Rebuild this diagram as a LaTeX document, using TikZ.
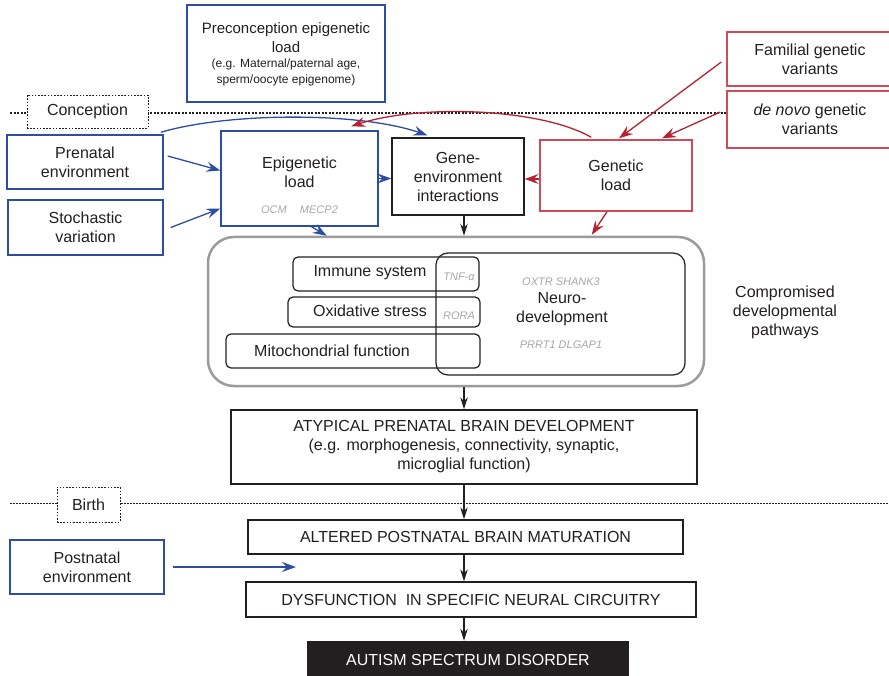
\documentclass[tikz,border=0pt]{standalone}
\usepackage{fontspec}
\setmainfont{Liberation Sans}
\usetikzlibrary{arrows.meta,calc}
\definecolor{myblue}{HTML}{2B4EA2}
\definecolor{myred}{HTML}{B52232}
\definecolor{redline}{HTML}{D24A57}
\definecolor{txt}{HTML}{231F20}
\definecolor{genegray}{HTML}{A6A6A6}
\definecolor{biggray}{HTML}{9B9B9B}
\begin{document}
\begin{tikzpicture}[x=1pt,y=-1pt,
  font=\fontsize{16}{19}\selectfont, text=txt,
  every node/.style={align=center, inner sep=0pt},
  box/.style={draw, line width=1.4pt},
  bluebox/.style={box, draw=myblue},
  redbox/.style={box, draw=redline},
  blackbox/.style={box, draw=txt},
  inbox/.style={draw=txt, line width=1.2pt},
  dotbox/.style={draw=txt, line width=0.9pt, dash pattern=on 1.6pt off 1.6pt, fill=white},
  gene/.style={text=genegray, font=\fontsize{11}{13}\selectfont\itshape},
  tipb/.style={-{Stealth[length=14pt,width=10pt,inset=5pt]}},
  barrow/.style={myblue, line width=1.3pt, tipb},
  rarrow/.style={myred, line width=1.3pt, tipb},
  karrow/.style={txt, line width=1.2pt, -{Stealth[length=12pt,width=7.5pt,inset=4pt]}},
  condot/.style={txt, line width=2.6pt, dash pattern=on 2pt off 1.5pt},
  birthdot/.style={txt, line width=0.9pt, dash pattern=on 1.5pt off 1.5pt}
]
\useasboundingbox (0,0) rectangle (889,676);

% time lines
\coordinate (cl) at (10,113);
\coordinate (cr) at (727,113);
\draw[condot] (cl) -- (cr);
\coordinate (bl) at (10,503);
\coordinate (br) at (889,503);
\draw[birthdot] (bl) -- (br);

% top boxes
\node[bluebox, minimum width=198pt, minimum height=97pt] (pre) at (286,53.5) {};
\node[font=\fontsize{15}{19}\selectfont] (pret) at (286,37.5) {Preconception epigenetic\\load};
\node[font=\fontsize{12}{16}\selectfont] (pres) at (286,72) {(e.g. Maternal/paternal age,\\sperm/oocyte epigenome)};

\node[dotbox, minimum width=121pt, minimum height=33pt] (conc) at (87.5,111.5) {Conception};

\node[bluebox, minimum width=156pt, minimum height=54pt] (prenat) at (85,162) {Prenatal\\environment};
\node[bluebox, minimum width=155pt, minimum height=55pt] (stoch) at (85.5,227.5) {Stochastic\\variation};

\node[bluebox, minimum width=157pt, minimum height=95pt] (epi) at (299.5,178.5) {};
\node (epit) at (299.5,172) {Epigenetic\\load};
\node[gene] (epig) at (299.5,210) {OCM\hspace{1.2em}MECP2};

\node[blackbox, minimum width=132pt, minimum height=77pt] (gxe) at (458,176.5) {Gene-\\environment\\interactions};
\node[redbox, minimum width=152pt, minimum height=71pt] (gen) at (616,175.5) {Genetic\\load};

\node[redbox, minimum width=166pt, minimum height=54pt] (fam) at (810,59) {Familial genetic\\variants};
\node[redbox, minimum width=166pt, minimum height=57pt] (denovo) at (810,119.5) {\textit{de novo} genetic\\variants};

% pathways
\node[draw=biggray, line width=2.5pt, rounded corners=26pt, minimum width=496pt, minimum height=149pt] (big) at (456,311.5) {};
\node[inbox, rounded corners=12pt, minimum width=249pt, minimum height=122pt] (neuro) at (560.5,314) {};
\node[inbox, rounded corners=5pt, minimum width=186pt, minimum height=34pt] (imm) at (386,274) {};
\node[inbox, rounded corners=5pt, minimum width=192pt, minimum height=30pt] (ox) at (384,312) {};
\node[inbox, rounded corners=5pt, minimum width=254pt, minimum height=34pt] (mito) at (353,351) {};
\node (immt) at (370,273) {Immune system};
\node (oxt) at (370,311) {Oxidative stress};
\node (mitot) at (332,351) {Mitochondrial function};
\node (neurot) at (562,309) {Neuro-\\development};
\node[gene] (tnf) at (459,277) {TNF-α};
\node[gene] (rora) at (459,316) {RORA};
\node[gene] (oxtr) at (561,282) {OXTR SHANK3};
\node[gene] (prrt) at (561,345) {PRRT1 DLGAP1};
\node (comp) at (785,312) {Compromised\\developmental\\pathways};

% lower chain
\node[blackbox, minimum width=466pt, minimum height=74pt] (atyp) at (464,447) {ATYPICAL PRENATAL BRAIN DEVELOPMENT\\(e.g. morphogenesis, connectivity, synaptic,\\microglial function)};
\node[dotbox, minimum width=63pt, minimum height=35pt] (birth) at (88.5,504.5) {Birth};
\node[blackbox, minimum width=435pt, minimum height=34pt] (alt) at (465.5,537) {ALTERED POSTNATAL BRAIN MATURATION};
\node[bluebox, minimum width=154pt, minimum height=54pt] (postn) at (87,567) {Postnatal\\environment};
\node[blackbox, minimum width=450pt, minimum height=35pt] (dys) at (471,599.5) {DYSFUNCTION\ \ IN SPECIFIC NEURAL CIRCUITRY};
\node[fill=txt, text=white, minimum width=322pt, minimum height=38pt] (asd) at (468,660) {AUTISM SPECTRUM DISORDER};

% blue connectors
\draw[barrow] ($(prenat.east)+(4,-6)$) -- ($(epi.west)+(0,-8)$);
\draw[barrow] ($(stoch.east)+(7,0)$) -- ($(epi.west)+(0,30)$);
\draw[barrow] ($(prenat.north east)+(-3,-2)$) .. controls (230,112) and (360,112) .. ($(gxe.north west)+(36,-2)$);
\draw[barrow] (epi.east) -- (gxe.west |- epi.east);
\draw[barrow] ($(epi.south)+(12,0)$) -- ($(big.north west)+(120,0)$);
\coordinate (pend) at (296,567);
\draw[barrow] ($(postn.east)+(8,0)$) -- (pend);

% red connectors
\draw[rarrow] ($(gen.north west)+(52,-2)$) .. controls (540,108) and (420,104) .. ($(epi.north west)+(131,-4)$);
\draw[rarrow] ($(gen.west)+(0,3.5)$) -- ($(gxe.east)+(0,2.5)$);
\draw[rarrow] ($(fam.west)+(-5,3)$) -- ($(gen.north)+(3,-1)$);
\draw[rarrow] ($(denovo.west)+(-6,-7.5)$) -- ($(gen.north)+(46,-1)$);
\draw[rarrow] ($(gen.south)+(-9,0)$) -- ($(big.north west)+(385,-1)$);

% black chain
\draw[karrow] (gxe.south -| atyp.north) -- (big.north -| atyp.north);
\draw[karrow] (big.south -| atyp.north) -- (atyp.north);
\draw[karrow] (atyp.south) -- (alt.north -| atyp.south);
\draw[karrow] (alt.south -| atyp.south) -- (dys.north -| atyp.south);
\draw[karrow] (dys.south -| atyp.south) -- (asd.north -| atyp.south);
\end{tikzpicture}
\end{document}
